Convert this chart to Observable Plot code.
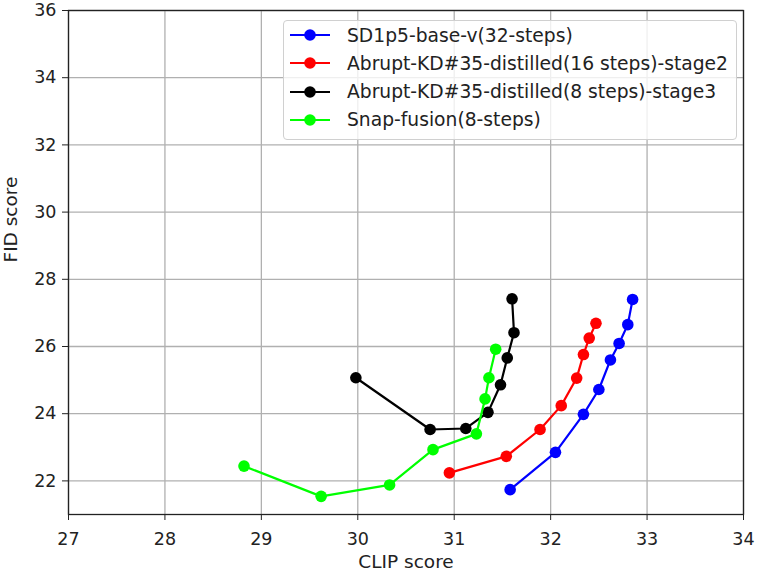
<!DOCTYPE html>
<html>
<head>
<meta charset="utf-8">
<script src="https://cdn.jsdelivr.net/npm/d3@7"></script>
<script src="https://cdn.jsdelivr.net/npm/@observablehq/plot@0.6"></script>
<style>
  html, body { margin: 0; padding: 0; background: white; }
  #wrap { position: relative; width: 757px; height: 571px; font-family: "DejaVu Sans", sans-serif; }
  #legend { position: absolute; left: 283px; top: 20px; width: 452px; height: 118px;
    border: 1px solid #d0d0d0; border-radius: 4px; background: rgba(255,255,255,0.8); }
  .row { position: absolute; left: 0; height: 28px; display: flex; align-items: center; }
  .row svg { margin-left: 5px; }
  .row span { margin-left: 16px; font-size: 18.7px; color: #222; white-space: nowrap; }
</style>
</head>
<body>
<div id="wrap"><div id="legend"></div></div>
<script>
const seriesNames = [
  "SD1p5-base-v(32-steps)",
  "Abrupt-KD#35-distilled(16 steps)-stage2",
  "Abrupt-KD#35-distilled(8 steps)-stage3",
  "Snap-fusion(8-steps)"
];
const seriesColors = ["#0000ff", "#ff0000", "#000000", "#00ff00"];

const sdClip = [31.58, 32.05, 32.34, 32.50, 32.62, 32.71, 32.80, 32.85];
const sdFid  = [21.74, 22.85, 23.98, 24.72, 25.60, 26.09, 26.65, 27.40];

const kd16Clip = [30.95, 31.54, 31.89, 32.11, 32.27, 32.34, 32.40, 32.47];
const kd16Fid  = [22.24, 22.73, 23.53, 24.24, 25.06, 25.76, 26.25, 26.69];

const kd8Clip = [29.98, 30.75, 31.12, 31.35, 31.48, 31.55, 31.62, 31.60];
const kd8Fid  = [25.07, 23.53, 23.56, 24.04, 24.86, 25.66, 26.41, 27.42];

const snapClip = [28.82, 29.62, 30.33, 30.78, 31.23, 31.32, 31.36, 31.43];
const snapFid  = [22.44, 21.54, 21.88, 22.93, 23.40, 24.44, 25.07, 25.92];

const xTicks = [27, 28, 29, 30, 31, 32, 33, 34];
const yTicks = [22, 24, 26, 28, 30, 32, 34, 36];

const clips = [sdClip, kd16Clip, kd8Clip, snapClip];
const fids = [sdFid, kd16Fid, kd8Fid, snapFid];
const data = seriesNames.map((name, i) =>
  clips[i].map((c, j) => ({series: name, clip: c, fid: fids[i][j]})));

const seriesMarks = data.flatMap((d, i) => [
  Plot.line(d, {x: "clip", y: "fid", stroke: seriesColors[i], strokeWidth: 2.2}),
  Plot.dot(d, {x: "clip", y: "fid", fill: seriesColors[i], r: 5.8})
]);

const chart = Plot.plot({
  width: 757, height: 571,
  marginLeft: 68, marginRight: 14, marginTop: 10, marginBottom: 57,
  x: {domain: [27, 34]},
  y: {domain: [21, 36]},
  style: {fontFamily: "DejaVu Sans", fontSize: "17.5px", color: "#222", background: "white"},
  marks: [
    Plot.gridX(xTicks, {stroke: "#b0b0b0", strokeOpacity: 1, strokeWidth: 1.3}),
    Plot.gridY(yTicks, {stroke: "#b0b0b0", strokeOpacity: 1, strokeWidth: 1.3}),
    Plot.axisX(xTicks, {tickSize: 6, tickPadding: 12, label: null, fontSize: 17.5, stroke: "#222"}),
    Plot.axisY(yTicks, {tickSize: 6, tickPadding: 6, label: null, fontSize: 17.5, stroke: "#222"}),
    Plot.frame({stroke: "#222", strokeWidth: 1.3}),
    ...seriesMarks,
    Plot.text(["CLIP score"], {frameAnchor: "bottom", dy: 53, fontSize: 18.5, fill: "#222"}),
    Plot.text(["FID score"], {frameAnchor: "left", dx: -57, rotate: -90, fontSize: 18.5, fill: "#222"})
  ]
});
document.getElementById("wrap").prepend(chart);

const legend = document.getElementById("legend");
seriesNames.forEach((name, i) => {
  const row = document.createElement("div");
  row.className = "row";
  row.style.top = (0 + i * 28.3) + "px";
  row.innerHTML = `<svg width="42" height="14"><line x1="1" x2="41" y1="7" y2="7" stroke="${seriesColors[i]}" stroke-width="2.2"/><circle cx="21" cy="7" r="5.8" fill="${seriesColors[i]}"/></svg><span>${name}</span>`;
  legend.appendChild(row);
});
</script>
</body>
</html>
